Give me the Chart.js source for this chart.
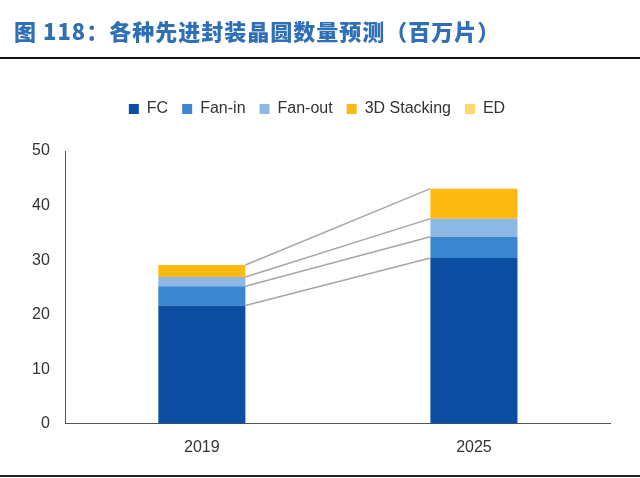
<!DOCTYPE html>
<html><head><meta charset="utf-8">
<script src="https://cdn.jsdelivr.net/npm/chart.js@4/dist/chart.umd.min.js"></script>
<style>
body{margin:0;background:#fff;width:640px;height:478px;overflow:hidden;font-family:"Noto Sans CJK SC",sans-serif}
#title{position:absolute;left:14px;top:14px;font-size:22px;font-weight:900;color:#2f6fb5;letter-spacing:1px}
#rule{position:absolute;left:0;top:57px;width:640px;height:2px;background:#111}
#foot{position:absolute;left:0;top:475px;width:640px;height:2px;background:#222}
#wrap{position:absolute;left:0;top:0;width:640px;height:478px}
</style></head><body>
<div id="wrap"><canvas id="c"></canvas></div>
<div id="title">图 118：各种先进封装晶圆数量预测（百万片）</div>
<div id="rule"></div><div id="foot"></div>
<script>
// ── Data ────────────────────────────────────────────────────────────────────
const years    = ['2019','2025'];
const fc       = [21.7, 30.4];
const fanIn    = [3.5, 3.9];
const fanOut   = [1.7, 3.3];
const stacking = [2.2, 5.5];
const ed       = [0, 0];

const seg = (label, data, color) => ({label, data, backgroundColor:color, barPercentage:0.64, categoryPercentage:0.5});

// connector lines between segment tops of the two bars
const connectors = {
  id:'connectors',
  afterDatasetsDraw(chart){
    const ctx = chart.ctx;
    ctx.save(); ctx.strokeStyle='#a6a6a6'; ctx.lineWidth=1.5;
    for (let d=0; d<4; d++){
      const m = chart.getDatasetMeta(d).data;
      const a = m[0], b = m[1];
      ctx.beginPath();
      ctx.moveTo(a.x + a.width/2, a.y);
      ctx.lineTo(b.x - b.width/2, b.y);
      ctx.stroke();
    }
    ctx.restore();
  }
};

// extra space below the legend
const legendGap = {
  id:'legendGap',
  beforeInit(chart){
    const fit = chart.legend.fit;
    chart.legend.fit = function(){ fit.bind(chart.legend)(); this.height += 24; };
  }
};

new Chart(document.getElementById('c'), {
  type:'bar',
  data:{ labels:years, datasets:[
    seg('FC', fc, '#0b4ea2'),
    seg('Fan-in', fanIn, '#3a86d0'),
    seg('Fan-out', fanOut, '#8cb8e3'),
    seg('3D Stacking', stacking, '#fbb911'),
    seg('ED', ed, '#fdd86a'),
  ]},
  options:{
    responsive:true, maintainAspectRatio:false, animation:false,
    layout:{padding:{top:87, left:24, right:30, bottom:15}},
    plugins:{
      legend:{labels:{color:'#333', font:{size:16, family:'Liberation Sans'}, boxWidth:10, boxHeight:10, padding:14}},
      tooltip:{enabled:false}
    },
    scales:{
      x:{stacked:true, grid:{display:false}, border:{color:'#555'},
         ticks:{color:'#333', font:{size:16, family:'Liberation Sans'}, padding:6}},
      y:{stacked:true, min:0, max:50, grid:{display:false}, border:{color:'#555'},
         ticks:{stepSize:10, color:'#333', font:{size:16, family:'Liberation Sans'}, padding:8}}
    }
  },
  plugins:[connectors, legendGap]
});
</script></body></html>
